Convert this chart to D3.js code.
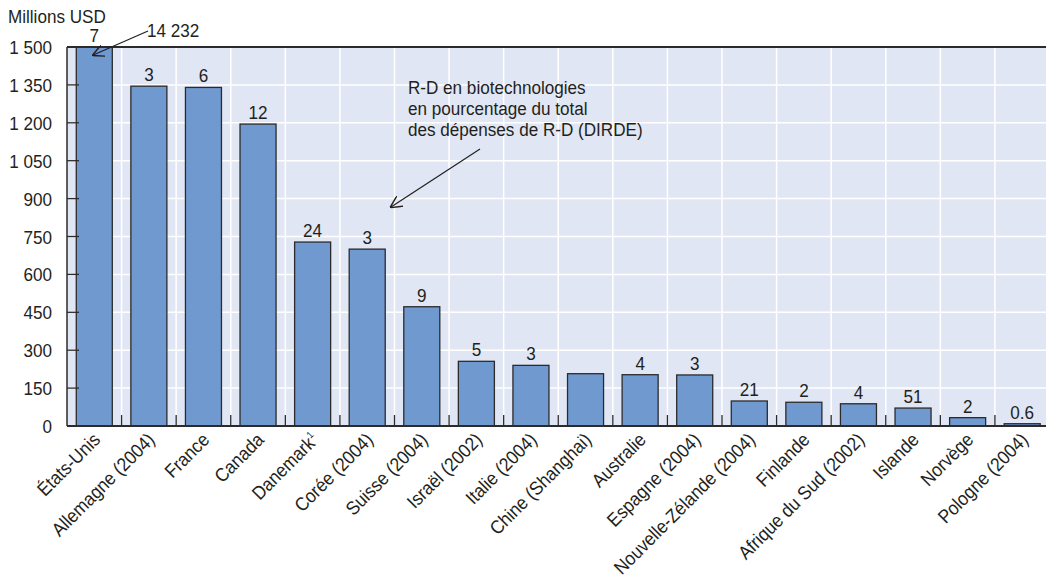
<!DOCTYPE html>
<html>
<head>
<meta charset="utf-8">
<script src="https://cdn.jsdelivr.net/npm/d3@7/dist/d3.min.js"></script>
<style>
  html, body { margin: 0; padding: 0; background: #ffffff; }
  svg text { font-family: "Liberation Sans", Arial, sans-serif; fill: #231f20; }
</style>
</head>
<body>
<svg id="chart" width="1046" height="580"></svg>
<script>
// Biotechnology R&D expenditure, millions USD
const countries = [
  "États-Unis", "Allemagne (2004)", "France", "Canada", "Danemark", "Corée (2004)",
  "Suisse (2004)", "Israël (2002)", "Italie (2004)", "Chine (Shanghai)", "Australie",
  "Espagne (2004)", "Nouvelle-Zélande (2004)", "Finlande", "Afrique du Sud (2002)",
  "Islande", "Norvège", "Pologne (2004)"
];
const biotechRD = [14232, 1345, 1340, 1195, 728, 700, 472, 256, 240, 207, 203, 202, 99, 94, 88, 71, 33, 9];
// Biotech R&D as a share of total business R&D (BERD), %
const shareLabels = ["7", "3", "6", "12", "24", "3", "9", "5", "3", "", "4", "3", "21", "2", "4", "51", "2", "0.6"];
const yTicks = [0, 150, 300, 450, 600, 750, 900, 1050, 1200, 1350, 1500];
const footnoted = { "Danemark": "1" };

const svg = d3.select("#chart");
const plotLeft = 67, plotRight = 1049.5, plotTop = 47, plotBottom = 426;
const FONT = 19, SQUEEZE = 0.9;   // condensed look: larger type, narrowed horizontally

const x = d3.scaleBand().domain(countries).range([plotLeft, plotRight]).paddingInner(0.34).paddingOuter(0.17);
const y = d3.scaleLinear().domain([0, 1500]).range([plotBottom, plotTop]).clamp(true);

const fmt = v => d3.format(",")(v).replace(/,/g, " ");

// narrow text placed at (px, py), optionally rotated
function label(parent, px, py, str, anchor = "start", angle = 0, squeeze = SQUEEZE) {
  const t = parent.append("text")
    .attr("transform", `translate(${px},${py}) rotate(${angle}) scale(${squeeze},1)`)
    .attr("text-anchor", anchor)
    .attr("font-size", FONT);
  if (str !== null) t.text(str);
  return t;
}

// plot background
svg.append("rect")
  .attr("x", plotLeft).attr("y", plotTop)
  .attr("width", plotRight - plotLeft).attr("height", plotBottom - plotTop)
  .attr("fill", "#e1e6f4");

// horizontal gridlines
svg.append("g").selectAll("line").data(yTicks).join("line")
  .attr("x1", plotLeft).attr("x2", plotRight)
  .attr("y1", d => y(d)).attr("y2", d => y(d))
  .attr("stroke", "#ffffff").attr("stroke-width", 1.5);

// vertical gridlines at category boundaries
const bounds = countries.slice(1).map(c => x(c) - x.step() * x.paddingInner() / 2);
svg.append("g").selectAll("line").data(bounds).join("line")
  .attr("x1", d => d).attr("x2", d => d)
  .attr("y1", plotTop).attr("y2", plotBottom)
  .attr("stroke", "#ffffff").attr("stroke-width", 1.5);

// bars
svg.append("g").selectAll("rect").data(countries).join("rect")
  .attr("x", d => x(d))
  .attr("width", x.bandwidth())
  .attr("y", (d, i) => y(biotechRD[i]))
  .attr("height", (d, i) => plotBottom - y(biotechRD[i]))
  .attr("fill", "#7099d0")
  .attr("stroke", "#2b2b2b").attr("stroke-width", 1.3);

// share labels above bars
const shareG = svg.append("g");
countries.forEach((c, i) => {
  label(shareG, x(c) + x.bandwidth() / 2, y(biotechRD[i]) - 5, shareLabels[i], "middle");
});

// boundary tick marks on the category axis
svg.append("g").selectAll("line").data(bounds).join("line")
  .attr("x1", d => d).attr("x2", d => d)
  .attr("y1", plotBottom - 11).attr("y2", plotBottom)
  .attr("stroke", "#2b2b2b").attr("stroke-width", 1.3);

// y axis ticks (inside) and labels
const yAxis = svg.append("g");
yAxis.selectAll("line").data(yTicks).join("line")
  .attr("x1", plotLeft).attr("x2", plotLeft + 12)
  .attr("y1", d => y(d)).attr("y2", d => y(d))
  .attr("stroke", "#2b2b2b").attr("stroke-width", 1.3);
yTicks.forEach(v => {
  label(yAxis, 52, y(v) + 7, fmt(v), "end");
});

// frame: left axis, top border, baseline
svg.append("line").attr("x1", plotLeft).attr("x2", plotLeft).attr("y1", plotTop).attr("y2", plotBottom)
  .attr("stroke", "#2b2b2b").attr("stroke-width", 1.5);
svg.append("line").attr("x1", plotLeft).attr("x2", plotRight).attr("y1", plotTop).attr("y2", plotTop)
  .attr("stroke", "#2b2b2b").attr("stroke-width", 2);
svg.append("line").attr("x1", plotLeft).attr("x2", plotRight).attr("y1", plotBottom).attr("y2", plotBottom)
  .attr("stroke", "#2b2b2b").attr("stroke-width", 2);

// unit label
label(svg, 8, 23, "Millions USD");

// category labels, rotated
const catG = svg.append("g");
countries.forEach(c => {
  const t = label(catG, x(c) + x.bandwidth() / 2 + 7, plotBottom + 15, null, "end", -45, 0.91);
  t.append("tspan").text(c);
  if (footnoted[c]) {
    t.append("tspan").attr("font-size", 10).attr("dy", "-0.8em").text(footnoted[c]);
  }
});

// arrow marker
svg.append("defs").append("marker")
  .attr("id", "arrowhead").attr("viewBox", "0 0 10 10")
  .attr("refX", 9).attr("refY", 5)
  .attr("markerWidth", 12).attr("markerHeight", 12)
  .attr("markerUnits", "userSpaceOnUse")
  .attr("orient", "auto")
  .append("path").attr("d", "M0,0 L10,5 L0,10").attr("fill", "none")
  .attr("stroke", "#231f20").attr("stroke-width", 1.2);

// true value of the clipped first bar
const us = countries[0];
label(svg, 147, 37, fmt(biotechRD[0]));
svg.append("line")
  .attr("x1", 148).attr("y1", 31)
  .attr("x2", x(us) + x.bandwidth() / 2 - 1).attr("y2", 55)
  .attr("stroke", "#231f20").attr("stroke-width", 1.2)
  .attr("marker-end", "url(#arrowhead)");

// note explaining the numbers above the bars
["R-D en biotechnologies", "en pourcentage du total", "des dépenses de R-D (DIRDE)"].forEach((t, i) => {
  label(svg, 408, 94 + i * 21, t);
});
svg.append("line")
  .attr("x1", 480).attr("y1", 149)
  .attr("x2", 391).attr("y2", 207)
  .attr("stroke", "#231f20").attr("stroke-width", 1.2)
  .attr("marker-end", "url(#arrowhead)");
</script>
</body>
</html>
